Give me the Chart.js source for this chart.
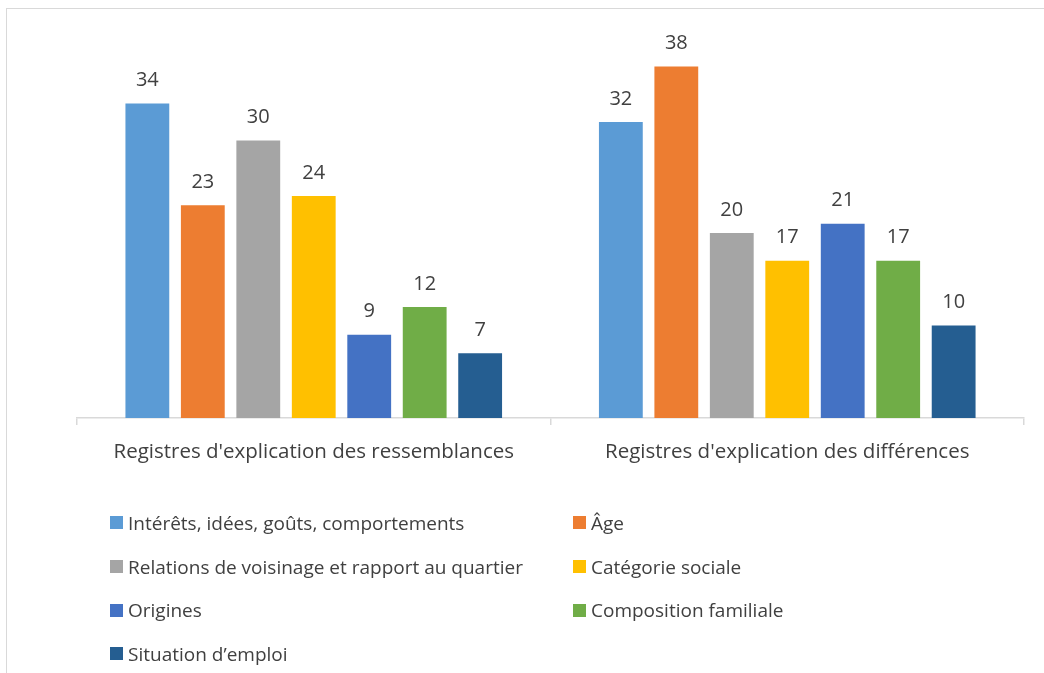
<!DOCTYPE html>
<html lang="fr">
<head>
<meta charset="utf-8">
<title>Registres d'explication</title>
<script src="https://cdn.jsdelivr.net/npm/chart.js@4/dist/chart.umd.min.js"></script>
<style>
  html, body { margin: 0; padding: 0; background: #fff; }
  body { width: 1044px; height: 673px; position: relative; overflow: hidden; font-family: "Open Sans", sans-serif; }
  .frame { position: absolute; left: 6px; top: 8px; width: 1100px; height: 700px; border: 1.5px solid #d9d9d9; box-sizing: border-box; }
  .wrap { position: absolute; left: 0; top: 0; width: 1044px; height: 673px; }
  #legend { position: absolute; left: 110px; top: 501px; display: grid; grid-template-columns: 463px 300px; grid-auto-rows: 43.7px; }
  .item { display: flex; align-items: center; font-size: 19px; color: #404040; white-space: nowrap; }
  .swatch { width: 13px; height: 13px; margin-right: 5px; flex: none; }
</style>
</head>
<body>
<div class="frame"></div>
<div class="wrap"><canvas id="chart" width="1044" height="673"></canvas></div>
<div id="legend"></div>
<script>
/* ── Data ── */
const categories = ["Registres d'explication des ressemblances", "Registres d'explication des différences"];
const seriesNames = [
  'Intérêts, idées, goûts, comportements',
  'Âge',
  'Relations de voisinage et rapport au quartier',
  'Catégorie sociale',
  'Origines',
  'Composition familiale',
  'Situation d’emploi'
];
const interets = [34, 32];
const age = [23, 38];
const voisinage = [30, 20];
const categorie = [24, 17];
const origines = [9, 21];
const composition = [12, 17];
const emploi = [7, 10];
const colors = ['#5B9BD5', '#ED7D31', '#A5A5A5', '#FFC000', '#4472C4', '#70AD47', '#255E91'];

/* ── Value labels above bars ── */
const valueLabels = {
  id: 'valueLabels',
  afterDatasetsDraw(chart) {
    const ctx = chart.ctx;
    ctx.save();
    ctx.font = '20px "Open Sans", sans-serif';
    ctx.fillStyle = '#404040';
    ctx.textAlign = 'center';
    ctx.textBaseline = 'middle';
    chart.data.datasets.forEach((ds, i) => {
      chart.getDatasetMeta(i).data.forEach((bar, j) => {
        ctx.fillText(ds.data[j], bar.x, bar.y - 23);
      });
    });
    ctx.restore();
  }
};

/* ── Chart ── */
function initChart() {
  const values = [interets, age, voisinage, categorie, origines, composition, emploi];
  return new Chart(document.getElementById('chart'), {
    type: 'bar',
    data: {
      labels: categories,
      datasets: values.map((v, i) => ({
        label: seriesNames[i],
        data: v,
        backgroundColor: colors[i],
        categoryPercentage: 0.82,
        barPercentage: 0.79
      }))
    },
    options: {
      responsive: false,
      animation: false,
      layout: { padding: { left: 77, right: 20, top: 48, bottom: 0 } },
      plugins: { legend: { display: false }, tooltip: { enabled: false } },
      scales: {
        y: { display: false, min: 0, max: 40 },
        x: {
          afterFit: s => { s.height = 255; },
          border: { color: '#d9d9d9', width: 1.5 },
          grid: { drawOnChartArea: false, color: '#d9d9d9', lineWidth: 1.5, tickLength: 7, offset: true },
          ticks: { color: '#404040', padding: 15, font: { family: '"Open Sans", sans-serif', size: 20.5 } }
        }
      }
    },
    plugins: [valueLabels]
  });
}

function initLegend() {
  const box = document.getElementById('legend');
  seriesNames.forEach((name, i) => {
    const item = document.createElement('div');
    item.className = 'item';
    item.innerHTML = '<span class="swatch" style="background:' + colors[i] + '"></span>' + name;
    box.appendChild(item);
  });
}

initChart();
initLegend();
</script>
</body>
</html>
